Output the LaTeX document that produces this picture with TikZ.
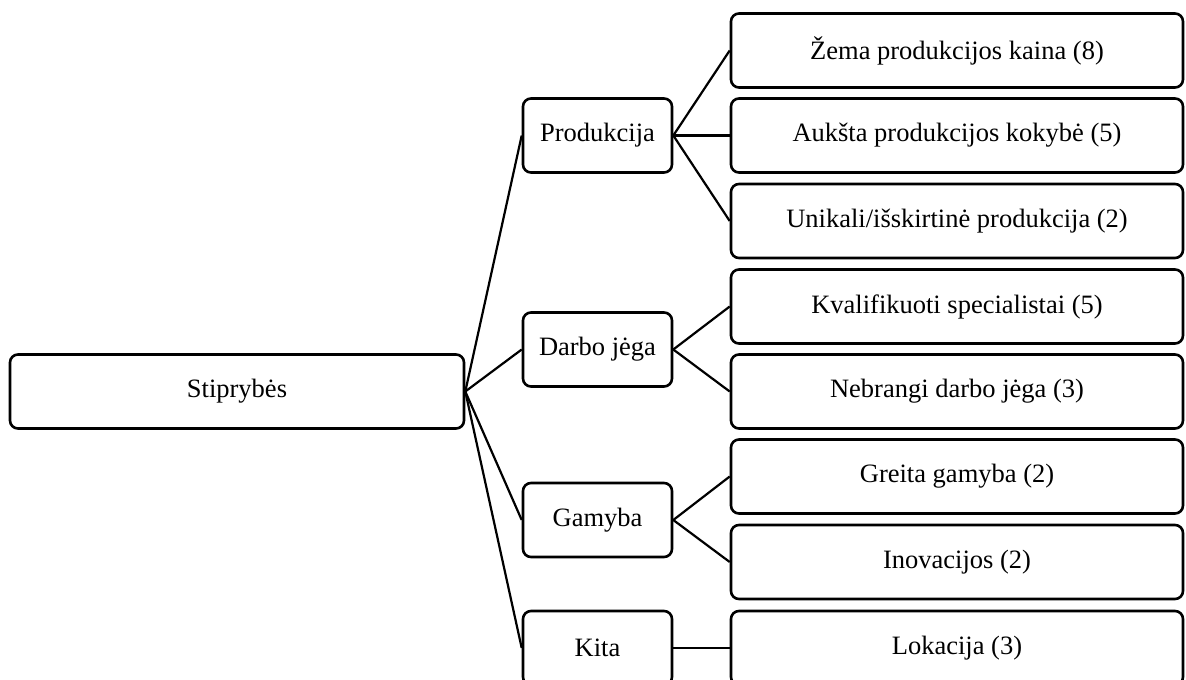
\documentclass[tikz,border=0pt]{standalone}
\usepackage{fontspec}
\setmainfont{Liberation Serif}
\begin{document}
\begin{tikzpicture}[x=1pt,y=-1pt,
  box/.style={draw, line width=2.6pt, rounded corners=8pt, inner sep=0pt,
    minimum height=74pt, font=\fontsize{26.5}{30}\selectfont},
  rootbox/.style={box, minimum width=454pt},
  midbox/.style={box, minimum width=149pt},
  leafbox/.style={box, minimum width=452pt},
  link/.style={line width=2.2pt}]
\useasboundingbox (0,0) rectangle (1186,680);
\clip (0,0) rectangle (1186,680);
% root
\node[rootbox] (root) at (237,391.5) {Stiprybės};
% second level
\node[midbox] (prod) at (597.5,135.5) {Produkcija};
\node[midbox] (darbo) at (597.5,349.5) {Darbo jėga};
\node[midbox] (gam) at (597.5,520) {Gamyba};
\node[midbox] (kita) at (597.5,648) {Kita};
% leaves
\node[leafbox] (l1) at (957,50.5) {Žema produkcijos kaina (8)};
\node[leafbox] (l2) at (957,135.5) {Aukšta produkcijos kokybė (5)};
\node[leafbox] (l3) at (957,221) {Unikali/išskirtinė produkcija (2)};
\node[leafbox] (l4) at (957,306.5) {Kvalifikuoti specialistai (5)};
\node[leafbox] (l5) at (957,391.5) {Nebrangi darbo jėga (3)};
\node[leafbox] (l6) at (957,476.5) {Greita gamyba (2)};
\node[leafbox] (l7) at (957,562) {Inovacijos (2)};
\node[leafbox] (l8) at (957,648) {Lokacija (3)};
% connectors
\foreach \m in {prod,darbo,gam,kita} \draw[link] (root.east) -- (\m.west);
\foreach \l in {l1,l2,l3} \draw[link] (prod.east) -- (\l.west);
\foreach \l in {l4,l5} \draw[link] (darbo.east) -- (\l.west);
\foreach \l in {l6,l7} \draw[link] (gam.east) -- (\l.west);
\draw[link] (kita.east) -- (l8.west);
\end{tikzpicture}
\end{document}
